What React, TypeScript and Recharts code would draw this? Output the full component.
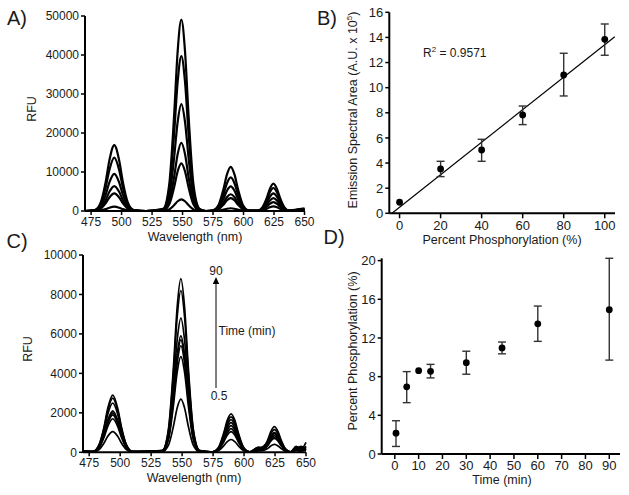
import React from 'react';
import { LineChart, Line, ScatterChart, Scatter, XAxis, YAxis, ErrorBar, ReferenceLine } from 'recharts';

// shared wavelength grid (nm), denser around the four emission peaks
const WAVELENGTHS = [470, 478, 483, 487, 490, 494, 498, 501, 505, 510, 520, 534, 539, 543, 546, 549, 552, 555, 559, 564, 569, 574.5, 579.5, 583.5, 586.5, 589.5, 592.5, 595.5, 599.5, 604.5, 611.5, 615.5, 619, 621.5, 624.5, 627.5, 630, 633.5, 637.5, 642, 646, 650];

// panel A spectra (RFU), one per phosphorylation standard
const SPEC_A1 = [0, 250, 2280, 7520, 13000, 16900, 13000, 7520, 2280, 250, 0, 540, 6630, 24060, 41000, 49100, 41000, 24060, 6630, 540, 0, 120, 1530, 5540, 9440, 11300, 9440, 5540, 1530, 120, 100, 945, 3290, 5600, 7000, 5600, 3290, 945, 100, 300, 500, 700];
const SPEC_A2 = [0, 200, 1850, 6100, 10550, 13700, 10550, 6100, 1850, 200, 0, 440, 5360, 19450, 33150, 39700, 33150, 19450, 5360, 440, 0, 95, 1160, 4210, 7180, 8600, 7180, 4210, 1160, 95, 90, 800, 2770, 4720, 5900, 4720, 2770, 800, 90, 250, 400, 500];
const SPEC_A3 = [0, 140, 1280, 4230, 7320, 9500, 7320, 4230, 1280, 140, 0, 300, 3700, 13430, 22880, 27400, 22880, 13430, 3700, 300, 0, 70, 850, 3090, 5260, 6300, 5260, 3090, 850, 70, 70, 610, 2120, 3600, 4500, 3600, 2120, 610, 70, 200, 350, 400];
const SPEC_A4 = [0, 100, 860, 2850, 4930, 6400, 4930, 2850, 860, 100, 0, 190, 2360, 8580, 14610, 17500, 14610, 8580, 2360, 190, 0, 50, 580, 2110, 3590, 4300, 3590, 2110, 580, 50, 50, 450, 1550, 2640, 3300, 2640, 1550, 450, 50, 150, 300, 300];
const SPEC_A5 = [0, 70, 610, 2000, 3470, 4500, 3470, 2000, 610, 70, 0, 130, 1650, 5980, 10190, 12200, 10190, 5980, 1650, 130, 0, 40, 450, 1620, 2760, 3300, 2760, 1620, 450, 40, 35, 310, 1080, 1840, 2300, 1840, 1080, 310, 35, 100, 200, 250];
const SPEC_A6 = [0, 20, 150, 490, 850, 1100, 850, 490, 150, 20, 0, 30, 400, 1470, 2500, 3000, 2500, 1470, 400, 30, 0, 10, 95, 340, 580, 700, 580, 340, 95, 10, 20, 160, 560, 960, 1200, 960, 560, 160, 20, 100, 150, 200];

// panel C spectra (RFU), time course 0.5 - 90 min
const SPEC_C1 = [80, 45, 390, 1290, 2230, 2900, 2230, 1290, 390, 45, 60, 100, 1190, 4310, 7350, 8800, 7350, 4310, 1190, 100, 40, 20, 260, 960, 1630, 1950, 1630, 960, 260, 20, 250, 250, 610, 1040, 1300, 1040, 610, 175, 20, 200, 150, 500];
const SPEC_C2 = [60, 40, 370, 1220, 2120, 2750, 2120, 1220, 370, 40, 50, 90, 1110, 4020, 6850, 8200, 6850, 4020, 1110, 90, 30, 20, 240, 880, 1500, 1800, 1500, 880, 240, 20, 150, 300, 540, 920, 1150, 920, 540, 155, 20, 250, 100, 300];
const SPEC_C3 = [50, 40, 340, 1110, 1930, 2500, 1930, 1110, 340, 40, 30, 75, 920, 3330, 5680, 6800, 5680, 3330, 920, 75, 50, 20, 220, 810, 1380, 1650, 1380, 810, 220, 20, 200, 180, 470, 800, 1000, 800, 470, 135, 15, 150, 250, 200];
const SPEC_C4 = [40, 30, 280, 930, 1620, 2100, 1620, 930, 280, 30, 40, 65, 800, 2890, 4930, 5900, 4930, 2890, 800, 65, 20, 15, 200, 740, 1250, 1500, 1250, 740, 200, 15, 100, 250, 450, 760, 950, 760, 450, 130, 15, 300, 150, 100];
const SPEC_C5 = [30, 30, 270, 890, 1540, 2000, 1540, 890, 270, 30, 20, 60, 770, 2790, 4760, 5700, 4760, 2790, 770, 60, 40, 15, 180, 660, 1130, 1350, 1130, 660, 180, 15, 250, 120, 400, 680, 850, 680, 400, 115, 15, 100, 200, 150];
const SPEC_C6 = [40, 30, 260, 850, 1460, 1900, 1460, 850, 260, 30, 30, 60, 730, 2650, 4510, 5400, 4510, 2650, 730, 60, 30, 15, 160, 590, 1000, 1200, 1000, 590, 160, 15, 150, 200, 350, 600, 750, 600, 350, 100, 10, 200, 300, 100];
const SPEC_C7 = [30, 25, 230, 760, 1310, 1700, 1310, 760, 230, 25, 20, 55, 650, 2380, 4050, 4850, 4050, 2380, 650, 55, 20, 10, 140, 510, 880, 1050, 880, 510, 140, 10, 100, 150, 330, 560, 700, 560, 330, 95, 10, 150, 100, 250];
const SPEC_C8 = [20, 15, 140, 470, 810, 1050, 810, 470, 140, 15, 10, 30, 360, 1320, 2250, 2700, 2250, 1320, 360, 30, 10, 5, 90, 320, 540, 650, 540, 320, 90, 5, 80, 100, 190, 320, 400, 320, 190, 55, 5, 100, 50, 150];

const WL_TICKS = [475, 500, 525, 550, 575, 600, 625, 650];
const RFU_A_TICKS = [0, 10000, 20000, 30000, 40000, 50000];
const RFU_C_TICKS = [0, 2000, 4000, 6000, 8000, 10000];

// panel B: standard curve
const PHOS_PCT = [0, 20, 40, 60, 80, 100];
const PHOS_AREA = [0.88, 3.53, 5.04, 7.83, 11.01, 13.85];
const PHOS_ERR_LO = [null, 0.61, 0.9, 0.77, 1.67, 1.27];
const PHOS_ERR_HI = [null, 0.61, 0.85, 0.71, 1.73, 1.22];
const FIT_X = [-3.7, 104.9];
const FIT_Y = [0, 14.06];
const PCT_TICKS = [0, 20, 40, 60, 80, 100];
const AREA_TICKS = [0, 2, 4, 6, 8, 10, 12, 14, 16];

// panel D: time course
const TIME_MIN = [0.5, 5, 10, 15, 30, 45, 60, 90];
const TIME_PCT = [2.15, 6.95, 8.62, 8.55, 9.44, 10.97, 13.46, 14.92];
const TIME_ERR_LO = [1.37, 1.64, null, 0.68, 1.19, 0.61, 1.81, 5.21];
const TIME_ERR_HI = [1.29, 1.57, null, 0.72, 1.19, 0.61, 1.84, 5.32];
const TIME_TICKS = [0, 10, 20, 30, 40, 50, 60, 70, 80, 90];
const PCT_D_TICKS = [0, 4, 8, 12, 16, 20];

const specA = [SPEC_A1, SPEC_A2, SPEC_A3, SPEC_A4, SPEC_A5, SPEC_A6];
const specC = [SPEC_C1, SPEC_C2, SPEC_C3, SPEC_C4, SPEC_C5, SPEC_C6, SPEC_C7, SPEC_C8];

const toRows = (series: number[][]) =>
  WAVELENGTHS.map((w, i) => {
    const row: any = { w };
    series.forEach((s, k) => { row[`s${k}`] = s[i]; });
    return row;
  });

const rowsA = toRows(specA);
const rowsC = toRows(specC);

const errOf = (lo: (number | null)[], hi: (number | null)[], i: number) =>
  lo[i] == null ? null : [lo[i], hi[i]];

const dataB = PHOS_PCT.map((x, i) => ({ x, y: PHOS_AREA[i], err: errOf(PHOS_ERR_LO, PHOS_ERR_HI, i) }));
const dataD = TIME_MIN.map((x, i) => ({ x, y: TIME_PCT[i], err: errOf(TIME_ERR_LO, TIME_ERR_HI, i) }));

const FONT = '"Liberation Sans", Arial, sans-serif';
const axisLine = { stroke: '#000', strokeWidth: 2 };
const tickLine = { stroke: '#000', strokeWidth: 1.5 };
const tickA = { fill: '#1a1a1a', fontSize: 12 };
const tickB = { fill: '#1a1a1a', fontSize: 13 };

const Dot = (p: any) => <circle cx={p.cx} cy={p.cy} r={3.4} fill="#000" />;

const Txt = ({ x, y, size = 12.5, rotate = false, left = false, children }: any) => (
  <div
    style={{
      position: 'absolute',
      left: x,
      top: y,
      fontSize: size,
      lineHeight: 1,
      whiteSpace: 'nowrap',
      color: '#1a1a1a',
      transform: `translate(${left ? '0' : '-50%'}, -50%)${rotate ? ' rotate(-90deg)' : ''}`,
    }}
  >
    {children}
  </div>
);

const Spectra = ({ rows, count, ticks, max, width, height, margin, stroke }: any) => (
  <LineChart width={width} height={height} data={rows} margin={margin}>
    <XAxis dataKey="w" type="number" domain={[470, 650]} ticks={WL_TICKS} axisLine={axisLine}
      tickLine={tickLine} tickSize={4} tick={tickA} height={30} interval={0} />
    <YAxis type="number" domain={[0, max]} ticks={ticks} axisLine={axisLine}
      tickLine={tickLine} tickSize={4} tick={tickA} width={60} interval={0} />
    {Array.from({ length: count }).map((_, k) => (
      <Line key={k} type="monotone" dataKey={`s${k}`} stroke="#000" strokeWidth={stroke}
        dot={false} isAnimationActive={false} />
    ))}
  </LineChart>
);

export default function App() {
  return (
    <div style={{ position: 'absolute', left: 0, top: 0, width: 629, height: 495, background: '#fff', fontFamily: FONT, overflow: 'hidden' }}>
      {/* A */}
      <div style={{ position: 'absolute', left: 0, top: 0 }}>
        <Spectra rows={rowsA} count={specA.length} ticks={RFU_A_TICKS} max={50000} width={320} height={245}
          margin={{ top: 16, right: 15.5, left: 25, bottom: 4 }} stroke={2.2} />
      </div>
      {/* C */}
      <div style={{ position: 'absolute', left: 0, top: 240 }}>
        <Spectra rows={rowsC} count={specC.length} ticks={RFU_C_TICKS} max={10000} width={320} height={250}
          margin={{ top: 15, right: 14, left: 23, bottom: 7.7 }} stroke={1.7} />
      </div>
      {/* B */}
      <div style={{ position: 'absolute', left: 310, top: 0 }}>
        <ScatterChart width={319} height={245} margin={{ top: 12.3, right: 14, left: 29.3, bottom: 1.7 }}>
          <XAxis dataKey="x" type="number" domain={[-5, 105]} ticks={PCT_TICKS} axisLine={axisLine}
            tickLine={tickLine} tickSize={5} tick={tickB} height={30} interval={0} />
          <YAxis dataKey="y" type="number" domain={[0, 16]} ticks={AREA_TICKS} axisLine={axisLine}
            tickLine={tickLine} tickSize={4} tick={tickB} width={50} interval={0} />
          <ReferenceLine segment={[{ x: FIT_X[0], y: FIT_Y[0] }, { x: FIT_X[1], y: FIT_Y[1] }]}
            stroke="#000" strokeWidth={1.2} />
          <Scatter data={dataB} shape={Dot} isAnimationActive={false}>
            <ErrorBar dataKey="err" direction="y" width={4} stroke="#333" strokeWidth={1.4} />
          </Scatter>
        </ScatterChart>
      </div>
      {/* D */}
      <div style={{ position: 'absolute', left: 310, top: 240 }}>
        <ScatterChart width={319} height={255} margin={{ top: 18.3, right: 9, left: 21.7, bottom: 11 }}>
          <XAxis dataKey="x" type="number" domain={[-5.5, 94.5]} ticks={TIME_TICKS} axisLine={axisLine}
            tickLine={tickLine} tickSize={5} tick={tickB} height={30} interval={0} />
          <YAxis dataKey="y" type="number" domain={[0, 20]} ticks={PCT_D_TICKS} axisLine={axisLine}
            tickLine={tickLine} tickSize={4} tick={tickB} width={50} interval={0} />
          <Scatter data={dataD} shape={Dot} isAnimationActive={false}>
            <ErrorBar dataKey="err" direction="y" width={4} stroke="#333" strokeWidth={1.4} />
          </Scatter>
        </ScatterChart>
      </div>

      {/* arrow annotation in C */}
      <svg style={{ position: 'absolute', left: 0, top: 0 }} width={629} height={495}>
        <line x1={216} y1={388} x2={216} y2={283} stroke="#000" strokeWidth={1} />
        <polygon points="212.8,284 219.2,284 216,277" fill="#000" />
      </svg>

      <Txt x={17} y={18} size={20}>A)</Txt>
      <Txt x={327} y={18} size={20}>B)</Txt>
      <Txt x={17} y={241} size={20}>C)</Txt>
      <Txt x={334} y={237} size={20}>D)</Txt>

      <Txt x={32} y={109} rotate>RFU</Txt>
      <Txt x={195} y={237}>Wavelength (nm)</Txt>
      <Txt x={28} y={349} rotate>RFU</Txt>
      <Txt x={194} y={478}>Wavelength (nm)</Txt>

      <Txt x={353} y={110} rotate>Emission Spectral Area (A.U. x 10<sup style={{ fontSize: 8 }}>5</sup>)</Txt>
      <Txt x={502} y={240}>Percent Phosphorylation (%)</Txt>
      <Txt x={423} y={52} size={12} left>R<sup style={{ fontSize: 8 }}>2</sup> = 0.9571</Txt>

      <Txt x={353} y={351} rotate>Percent Phosphorylation (%)</Txt>
      <Txt x={502} y={480}>Time (min)</Txt>

      <Txt x={216} y={271} size={12}>90</Txt>
      <Txt x={219} y={396} size={12}>0.5</Txt>
      <Txt x={247} y={331} size={12}>Time (min)</Txt>
    </div>
  );
}
